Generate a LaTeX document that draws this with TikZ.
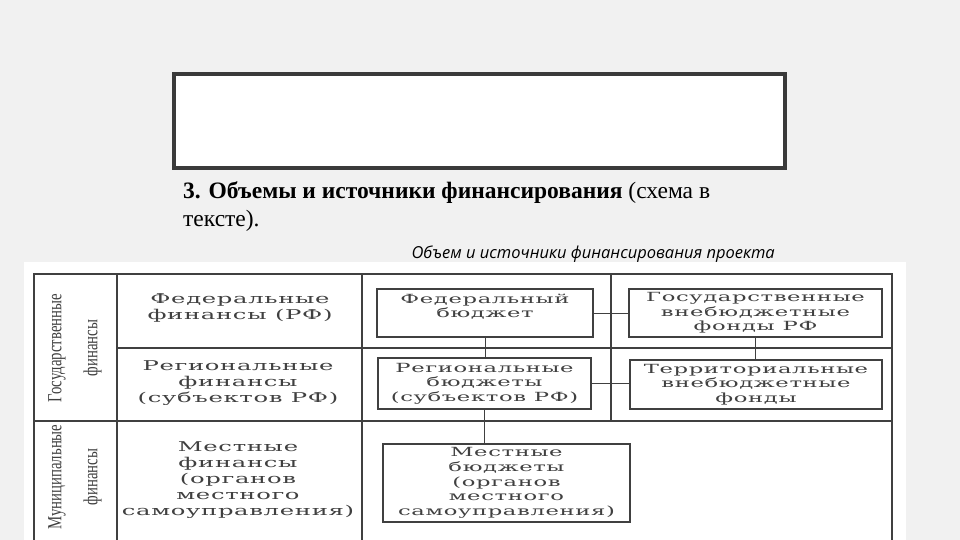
\documentclass[tikz,border=0pt]{standalone}
\usepackage{fontspec}
\setmainfont{Liberation Serif}
\newfontfamily\scanfont[FakeStretch=1.8,LetterSpace=5]{DejaVu Serif}
\newfontfamily\sidefont[FakeStretch=0.74]{Liberation Serif}
\newfontfamily\capfont{Open Sans}
\definecolor{slide}{HTML}{F1F1F1}
\definecolor{frame}{HTML}{3A3A3A}
\definecolor{ink}{HTML}{404040}
\begin{document}
\begin{tikzpicture}[x=1pt,y=-1pt]
        \tikzstyle{bx} = [draw=ink, line width=1.3pt, inner sep=0pt, align=center, text=ink, font=\scanfont\fontsize{12.6}{14.6}\selectfont]
        \tikzstyle{t} = [inner sep=0pt, align=center, text=ink, font=\scanfont\fontsize{13.5}{16}\selectfont]
        \tikzstyle{side} = [rotate=90, inner sep=0pt, align=center, text=ink, font=\sidefont\fontsize{20}{36}\selectfont]
        \tikzstyle{e} = [draw=ink, line width=1pt];
        \tikzstyle{grid} = [draw=ink, line width=1.4pt];
        % slide
        \useasboundingbox[fill=slide] (0,0) rectangle (960,540);
        \draw[frame, line width=4pt, fill=white] (174,74) rectangle (785,168);
        \node[anchor=north west, inner sep=0pt, align=left, font=\fontsize{23.5}{28}\selectfont] (title) at (183,181)
            {\textbf{3. Объемы и источники финансирования} (схема в\\тексте).};
        \node[anchor=base east, inner sep=0pt, font=\capfont\itshape\fontsize{16.5}{18}\selectfont] (sub) at (775,258)
            {Объем и источники финансирования проекта};
        % scanned table
        \fill[white] (24,262) rectangle (906,540);
        \draw[grid] (34,540) -- (34,274) -- (892,274) -- (892,540);
        \draw[grid] (117,274) -- (117,540);
        \draw[grid] (362,274) -- (362,540);
        \draw[grid] (611,274) -- (611,421);
        \draw[grid] (117,348) -- (892,348);
        \draw[grid] (34,421) -- (892,421);
        % row labels
        \node[side] (gos) at (75,348) {Государственные\\финансы};
        \node[side] (mun) at (75,477) {Муниципальные\\финансы};
        \node[t] (ff) at (240,308) {Федеральные\\финансы (РФ)};
        \node[t] (rf) at (238,383) {Региональные\\финансы\\(субъектов РФ)};
        \node[t] (mf) at (238,480) {Местные\\финансы\\(органов\\местного\\самоуправления)};
        % budgets and funds
        \node[bx, minimum width=216pt, minimum height=48pt] (fb) at (485,313) {Федеральный\\бюджет\\~};
        \node[bx, minimum width=253pt, minimum height=48pt] (gf) at (755.5,313) {Государственные\\внебюджетные\\фонды РФ};
        \node[bx, minimum width=213pt, minimum height=51pt] (rb) at (484.5,383.5) {Региональные\\бюджеты\\(субъектов РФ)};
        \node[bx, minimum width=252pt, minimum height=49pt] (tf) at (756,384.5) {Территориальные\\внебюджетные\\фонды};
        \node[bx, minimum width=247pt, minimum height=78pt] (lb) at (506.5,483) {Местные\\бюджеты\\(органов\\местного\\самоуправления)};
        \draw[e](fb)--(gf);
        \draw[e](rb.east)--(rb.east -| tf.west);
        \draw[e](fb.south)--(fb.south |- rb.north);
        \draw[e](gf.south)--(gf.south |- tf.north);
        \draw[e](rb.south)--(rb.south |- lb.north);
    \end{tikzpicture}
\end{document}
